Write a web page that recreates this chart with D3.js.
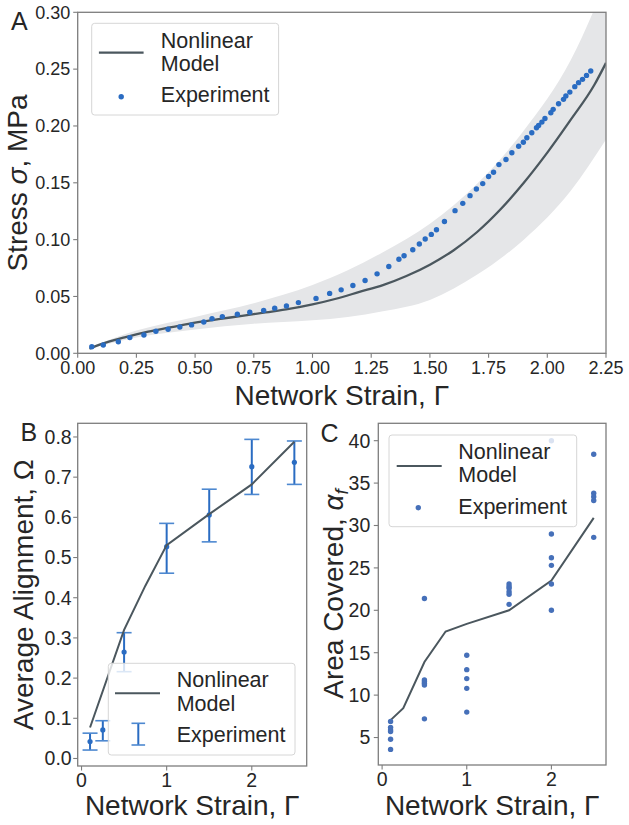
<!DOCTYPE html>
<html><head><meta charset="utf-8">
<script src="https://cdn.jsdelivr.net/npm/d3@7"></script>
<style>
html,body{margin:0;padding:0;background:#fff;}
text{font-family:"Liberation Sans",Arial,sans-serif;fill:#262626;}
</style></head>
<body><svg id="fig" width="629" height="825"></svg>
<script>
// ---------- Panel A data ----------
const modelStrainA = [0.05,0.1,0.2,0.3,0.4,0.5,0.6,0.7,0.8,0.9,1.0,1.1,1.2,1.3,1.4,1.5,1.6,1.7,1.8,1.9,2.0,2.1,2.2,2.25];
const modelStressA = [0.004,0.008,0.014,0.019,0.023,0.027,0.030,0.033,0.036,0.039,0.043,0.048,0.054,0.060,0.068,0.078,0.0905,0.1065,0.1265,0.150,0.1765,0.2055,0.236,0.2555];
const bandStrainA = [0.05,0.25,0.5,0.75,1.0,1.15,1.3,1.5,1.7,1.9,2.1,2.25];
const bandLowA    = [0.004,0.014,0.021,0.026,0.029,0.032,0.037,0.047,0.069,0.100,0.143,0.188];
const bandHighA   = [0.005,0.020,0.032,0.044,0.060,0.073,0.089,0.114,0.149,0.196,0.258,0.327];
const expStrainA = [0.060,0.109,0.173,0.222,0.282,0.333,0.385,0.435,0.485,0.537,0.572,0.616,0.680,0.733,0.792,0.839,0.889,0.940,1.015,1.073,1.122,1.172,1.224,1.275,1.325,1.368,1.390,1.427,1.455,1.480,1.506,1.528,1.562,1.607,1.640,1.671,1.698,1.725,1.750,1.771,1.794,1.824,1.849,1.878,1.898,1.913,1.934,1.954,1.963,1.977,1.990,2.015,2.025,2.048,2.069,2.079,2.096,2.117,2.133,2.150,2.167,2.185];
const expStressA = [0.0058,0.0073,0.0102,0.0138,0.0161,0.0194,0.0212,0.0232,0.0250,0.0276,0.0305,0.0323,0.0344,0.0361,0.0376,0.0397,0.0417,0.0446,0.0483,0.0527,0.0558,0.0596,0.0640,0.0699,0.0764,0.0828,0.0858,0.0911,0.0961,0.1005,0.1046,0.1087,0.1160,0.1255,0.1319,0.1387,0.1446,0.1493,0.1555,0.1593,0.1660,0.1705,0.1764,0.1822,0.1857,0.1896,0.1940,0.1984,0.2004,0.2034,0.2066,0.2116,0.2146,0.2196,0.2234,0.2263,0.2298,0.2346,0.2381,0.2410,0.2445,0.2483];
const xTicksA = [0,0.25,0.5,0.75,1.0,1.25,1.5,1.75,2.0,2.25];
const yTicksA = [0,0.05,0.10,0.15,0.20,0.25,0.30];

// ---------- Panel B data ----------
const modelStrainB = [0.1,0.5,0.75,1.0,1.5,2.0,2.5];
const modelAlignB  = [0.077,0.320,0.430,0.531,0.608,0.682,0.788];
const expStrainB = [0.1,0.25,0.5,1.0,1.5,2.0,2.5];
const expMeanB   = [0.042,0.071,0.265,0.527,0.606,0.726,0.737];
const expLowB    = [0.021,0.044,0.216,0.461,0.539,0.657,0.682];
const expHighB   = [0.063,0.094,0.313,0.585,0.670,0.794,0.790];
const xTicksB = [0,1,2];
const yTicksB = [0,0.1,0.2,0.3,0.4,0.5,0.6,0.7,0.8];

// ---------- Panel C data ----------
const modelStrainC = [0.1,0.25,0.5,0.75,1.0,1.5,2.0,2.5];
const modelAreaC   = [7.05,8.45,13.9,17.5,18.4,20.0,23.5,30.9];
const expStrainC = [0.1,0.1,0.1,0.1,0.1,0.1, 0.5,0.5,0.5,0.5,0.5,0.5, 1,1,1,1,1, 1.5,1.5,1.5,1.5,1.5,1.5, 2,2,2,2,2,2, 2.5,2.5,2.5,2.5,2.5];
const expAreaC   = [6.9,6.2,5.9,5.7,4.8,3.6, 21.4,11.8,11.6,11.4,11.2,7.2, 14.7,13.0,11.95,10.8,8.0, 23.1,22.8,22.6,22.2,21.9,20.7, 40.0,29.0,26.2,25.3,23.1,20.0, 38.4,33.8,33.4,32.95,28.6];
const xTicksC = [0,1,2];
const yTicksC = [5,10,15,20,25,30,35,40];

// ---------- styles ----------
const LINE = "#4b575e", DOT = "#2a6cc2", DOTC = "#4670b9", BAND = "#e5e6e8", SPINE = "#7d7d7d";
const svg = d3.select("#fig");

function frame(g, x, y, xt, yt, xfmt, yfmt, tickFont, xlabBase, ylabRight) {
  const [x0,x1] = x.range(), [y0,y1] = y.range();
  g.selectAll(".xt").data(xt).join("line").attr("x1",d=>x(d)).attr("x2",d=>x(d))
    .attr("y1",y0).attr("y2",y0+4.5).attr("stroke",SPINE).attr("stroke-width",1.1);
  g.selectAll(".yt").data(yt).join("line").attr("class","yt").attr("y1",d=>y(d)).attr("y2",d=>y(d))
    .attr("x1",x0-4.5).attr("x2",x0).attr("stroke",SPINE).attr("stroke-width",1.1);
  g.selectAll(".xl").data(xt).join("text").attr("class","xl").attr("x",d=>x(d)).attr("y",y0+xlabBase)
    .attr("text-anchor","middle").style("font-size",tickFont+"px").text(xfmt);
  g.selectAll(".yl").data(yt).join("text").attr("class","yl").attr("x",x0-ylabRight).attr("y",d=>y(d))
    .attr("dy","0.35em").attr("text-anchor","end").style("font-size",tickFont+"px").text(yfmt);
  g.append("rect").attr("x",x0).attr("y",y1).attr("width",x1-x0).attr("height",y0-y1)
    .attr("fill","none").attr("stroke",SPINE).attr("stroke-width",1.3);
}
function legendBox(g, x0, y0, x1, y1) {
  g.append("rect").attr("x",x0).attr("y",y0).attr("width",x1-x0).attr("height",y1-y0).attr("rx",3)
    .attr("fill","#fff").attr("fill-opacity",0.8).attr("stroke","#d6d6d6").attr("stroke-width",1);
}
function ltext(g, x, y, s) { g.append("text").attr("x",x).attr("y",y).style("font-size","21.5px").text(s); }

// ================= Panel A =================
{
  const x = d3.scaleLinear().domain([0,2.25]).range([77.7,606]);
  const y = d3.scaleLinear().domain([0,0.30]).range([353.3,12.3]);
  const g = svg.append("g");
  svg.append("clipPath").attr("id","clipA").append("rect")
    .attr("x",77.7).attr("y",12.3).attr("width",606-77.7).attr("height",353.3-12.3);
  const cg = g.append("g").attr("clip-path","url(#clipA)");
  cg.append("path").datum(d3.range(bandStrainA.length)).attr("fill",BAND)
    .attr("d", d3.area().curve(d3.curveMonotoneX).x(i=>x(bandStrainA[i])).y0(i=>y(bandLowA[i])).y1(i=>y(bandHighA[i])));
  cg.append("path").datum(d3.range(modelStrainA.length)).attr("fill","none").attr("stroke",LINE).attr("stroke-width",2.3)
    .attr("d", d3.line().curve(d3.curveMonotoneX).x(i=>x(modelStrainA[i])).y(i=>y(modelStressA[i])));
  cg.selectAll("circle").data(d3.range(expStrainA.length)).join("circle")
    .attr("cx",i=>x(expStrainA[i])).attr("cy",i=>y(expStressA[i])).attr("r",2.7).attr("fill",DOT);
  frame(g, x, y, xTicksA, yTicksA, d3.format(".2f"), d3.format(".2f"), 18, 20.5, 7.5);
  g.append("text").attr("x",341.8).attr("y",405).attr("text-anchor","middle").style("font-size","28px").text("Network Strain, Γ");
  const yl = g.append("text").attr("transform","translate(27,183) rotate(-90)").attr("text-anchor","middle").style("font-size","28px");
  yl.append("tspan").text("Stress ");
  yl.append("tspan").style("font-style","italic").text("σ");
  yl.append("tspan").text(", MPa");
  g.append("text").attr("x",11).attr("y",29.5).style("font-size","25px").text("A");
  legendBox(g, 91.7, 23.3, 278.6, 115);
  g.append("line").attr("x1",98.9).attr("x2",143.6).attr("y1",52.7).attr("y2",52.7).attr("stroke",LINE).attr("stroke-width",2.3);
  g.append("circle").attr("cx",121.2).attr("cy",96.7).attr("r",2.7).attr("fill",DOT);
  ltext(g,160.8,48.3,"Nonlinear"); ltext(g,160.8,71,"Model"); ltext(g,160.8,102,"Experiment");
}

// ================= Panel B =================
{
  const x = d3.scaleLinear().domain([-0.045,2.645]).range([77.7,306.7]);
  const y = d3.scaleLinear().domain([-0.0187,0.834]).range([766,423.3]);
  const g = svg.append("g");
  const EB = "#2a6cc2";
  const idx = d3.range(expStrainB.length);
  g.selectAll(".ebv").data(idx).join("line").attr("x1",i=>x(expStrainB[i])).attr("x2",i=>x(expStrainB[i]))
    .attr("y1",i=>y(expLowB[i])).attr("y2",i=>y(expHighB[i])).attr("stroke",EB).attr("stroke-width",2);
  [expLowB, expHighB].forEach(arr=>{
    g.selectAll(null).data(idx).join("line").attr("x1",i=>x(expStrainB[i])-7.5).attr("x2",i=>x(expStrainB[i])+7.5)
      .attr("y1",i=>y(arr[i])).attr("y2",i=>y(arr[i])).attr("stroke","#4d88d0").attr("stroke-width",1.6);
  });
  g.selectAll(".ebd").data(idx).join("circle").attr("cx",i=>x(expStrainB[i])).attr("cy",i=>y(expMeanB[i])).attr("r",2.6).attr("fill",EB);
  g.append("path").datum(d3.range(modelStrainB.length)).attr("fill","none").attr("stroke",LINE).attr("stroke-width",2)
    .attr("d", d3.line().x(i=>x(modelStrainB[i])).y(i=>y(modelAlignB[i])));
  frame(g, x, y, xTicksB, yTicksB, d3.format("d"), d3.format(".1f"), 19.5, 20.7, 6);
  g.append("text").attr("x",192.2).attr("y",815).attr("text-anchor","middle").style("font-size","28px").text("Network Strain, Γ");
  g.append("text").attr("transform","translate(33,594.7) rotate(-90)").attr("text-anchor","middle").style("font-size","28px").text("Average Alignment, Ω");
  g.append("text").attr("x",20.5).attr("y",441).style("font-size","25px").text("B");
  legendBox(g, 108.3, 663.3, 295, 755);
  g.append("line").attr("x1",115).attr("x2",160).attr("y1",693.3).attr("y2",693.3).attr("stroke",LINE).attr("stroke-width",2);
  g.append("line").attr("x1",138.3).attr("x2",138.3).attr("y1",723.3).attr("y2",745).attr("stroke",EB).attr("stroke-width",2);
  [723.3,745].forEach(v=>g.append("line").attr("x1",131.5).attr("x2",145.1).attr("y1",v).attr("y2",v).attr("stroke","#4d88d0").attr("stroke-width",1.6));
  ltext(g,176.7,686.7,"Nonlinear"); ltext(g,176.7,710.7,"Model"); ltext(g,176.7,742,"Experiment");
}

// ================= Panel C =================
{
  const x = d3.scaleLinear().domain([-0.045,2.645]).range([378.3,606]);
  const y = d3.scaleLinear().domain([1.76,42.05]).range([765,423.3]);
  const g = svg.append("g");
  g.append("path").datum(d3.range(modelStrainC.length)).attr("fill","none").attr("stroke",LINE).attr("stroke-width",2)
    .attr("d", d3.line().x(i=>x(modelStrainC[i])).y(i=>y(modelAreaC[i])));
  g.selectAll(".cd").data(d3.range(expStrainC.length)).join("circle")
    .attr("cx",i=>x(expStrainC[i])).attr("cy",i=>y(expAreaC[i])).attr("r",2.7).attr("fill",DOTC);
  frame(g, x, y, xTicksC, yTicksC, d3.format("d"), d3.format("d"), 19.5, 20.7, 8);
  g.append("text").attr("x",492.2).attr("y",815).attr("text-anchor","middle").style("font-size","28px").text("Network Strain, Γ");
  const yl = g.append("text").attr("transform","translate(343,594) rotate(-90)").attr("text-anchor","middle").style("font-size","28px");
  yl.append("tspan").text("Area Covered, ");
  yl.append("tspan").style("font-style","italic").text("α");
  yl.append("tspan").style("font-style","italic").style("font-size","19px").attr("dy",5).text("f");
  g.append("text").attr("x",320.5).attr("y",442).style("font-size","25px").text("C");
  legendBox(g, 389, 435, 576.7, 526.7);
  g.append("line").attr("x1",396.7).attr("x2",441.7).attr("y1",466).attr("y2",466).attr("stroke",LINE).attr("stroke-width",2);
  g.append("circle").attr("cx",418.3).attr("cy",507.7).attr("r",2.7).attr("fill",DOTC);
  ltext(g,458.3,459.3,"Nonlinear"); ltext(g,458.3,481.7,"Model"); ltext(g,458.3,514,"Experiment");
}
</script></body></html>
